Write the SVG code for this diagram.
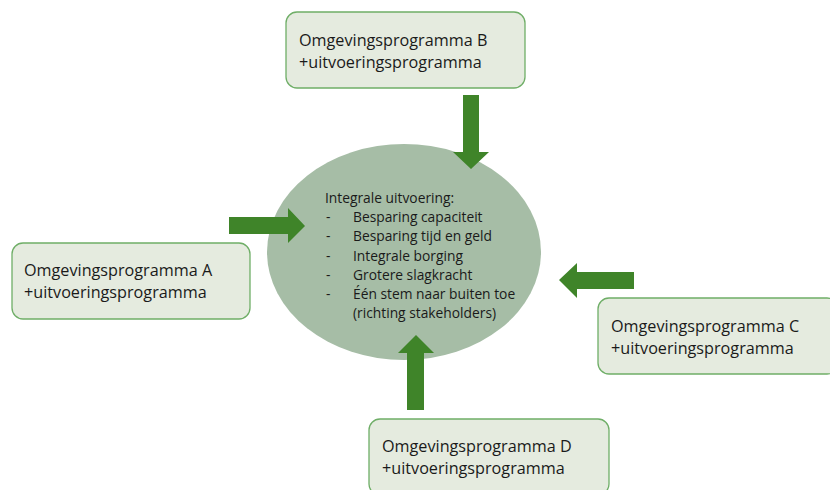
<svg xmlns="http://www.w3.org/2000/svg" width="830" height="490" viewBox="0 0 830 490">
<style>
.box{fill:#e5ebdf;stroke:#6fae67;stroke-width:1.3}
.bt{font-family:"Open Sans","Noto Sans",sans-serif;font-size:16.2px;fill:#1a1a1a}
.et{font-family:"Open Sans","Noto Sans",sans-serif;font-size:13.8px;fill:#1a1a1a}
.arr{fill:#3f8429}
</style>
<rect width="830" height="490" fill="#ffffff"/>
<g id="center">
<ellipse cx="404" cy="252" rx="137" ry="108" fill="#a6bda6"/>
<text class="et" x="325" y="203">Integrale uitvoering:</text>
<text class="et" x="326" y="222">-</text><text class="et" x="353" y="222">Besparing capaciteit</text>
<text class="et" x="326" y="241">-</text><text class="et" x="353" y="241">Besparing tijd en geld</text>
<text class="et" x="326" y="261">-</text><text class="et" x="353" y="261">Integrale borging</text>
<text class="et" x="326" y="280">-</text><text class="et" x="353" y="280">Grotere slagkracht</text>
<text class="et" x="326" y="299">-</text><text class="et" x="353" y="299">Één stem naar buiten toe</text>
<text class="et" x="353" y="318">(richting stakeholders)</text>
</g>
<g id="nodeB">
<rect class="box" x="286" y="12" width="239" height="76" rx="11"/>
<text class="bt" x="299" y="46">Omgevingsprogramma B</text>
<text class="bt" x="299" y="68">+uitvoeringsprogramma</text>
</g>
<g id="nodeA">
<rect class="box" x="12" y="243" width="238" height="76" rx="11"/>
<text class="bt" x="24" y="276">Omgevingsprogramma A</text>
<text class="bt" x="24" y="298">+uitvoeringsprogramma</text>
</g>
<g id="nodeC">
<rect class="box" x="598" y="298" width="240" height="76" rx="11"/>
<text class="bt" x="611" y="332">Omgevingsprogramma C</text>
<text class="bt" x="611" y="354">+uitvoeringsprogramma</text>
</g>
<g id="nodeD">
<rect class="box" x="369" y="419" width="240" height="76" rx="11"/>
<text class="bt" x="382" y="452">Omgevingsprogramma D</text>
<text class="bt" x="382" y="474">+uitvoeringsprogramma</text>
</g>
<g id="connectors">
<polygon class="arr" points="463,95 479,95 479,152 489,152 471,169 453,152 463,152"/>
<polygon class="arr" points="229,217 288,217 288,208 305,226 288,243 288,234 229,234"/>
<polygon class="arr" points="634,272 577,272 577,263 559,280 577,298 577,289 634,289"/>
<polygon class="arr" points="407,410 407,353 398,353 416,335 434,353 424,353 424,410"/>
</g>
</svg>
